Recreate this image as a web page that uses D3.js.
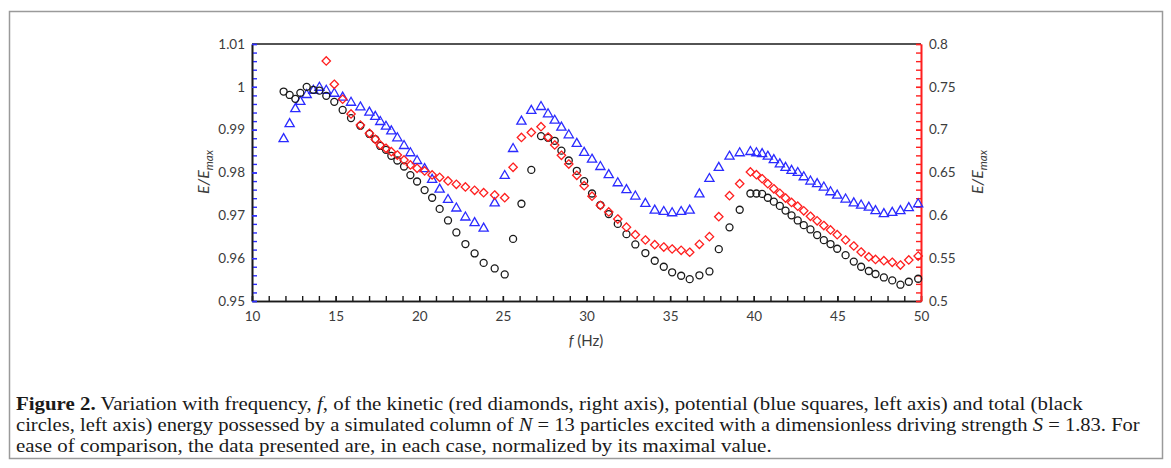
<!DOCTYPE html>
<html><head><meta charset="utf-8">
<script src="https://cdn.jsdelivr.net/npm/d3@7"></script>
<style>body{margin:0;background:#fff;} svg{display:block;} .cap{font-family:"Liberation Serif","Times New Roman",Times,serif;}</style>
</head><body><svg id="c" width="1171" height="468"></svg>
<script>
const freq = [11.89,12.25,12.59,12.89,13.27,13.67,14.03,14.44,14.92,15.42,15.92,16.48,17.02,17.37,17.67,18.01,18.33,18.69,19.09,19.47,19.87,
20.32,20.77,21.22,21.72,22.22,22.76,23.31,23.85,24.51,25.11,25.61,26.11,26.70,27.28,27.70,28.10,28.50,28.94,29.42,29.86,
30.33,30.83,31.33,31.87,32.39,32.92,33.52,34.08,34.62,35.12,35.66,36.17,36.75,37.35,37.91,38.55,39.16,39.80,
40.16,40.50,40.84,41.20,41.56,41.90,42.26,42.63,42.99,43.39,43.79,44.19,44.59,44.99,45.49,45.98,46.42,46.88,47.28,47.78,48.28,48.77,49.27,49.83];

const total = [0.9989,0.9981,0.9972,0.9986,1.0000,0.9993,0.9991,0.9979,0.9965,0.9946,0.9927,0.9909,0.9890,0.9878,0.9862,0.9853,0.9839,0.9828,0.9814,0.9794,0.9779,
0.9759,0.9741,0.9715,0.9688,0.9660,0.9633,0.9611,0.9589,0.9576,0.9562,0.9645,0.9727,0.9806,0.9885,0.9881,0.9874,0.9851,0.9828,0.9804,0.9780,
0.9751,0.9724,0.9703,0.9680,0.9656,0.9632,0.9612,0.9594,0.9580,0.9567,0.9559,0.9551,0.9560,0.9569,0.9621,0.9672,0.9713,0.9751,
0.9751,0.9750,0.9741,0.9732,0.9722,0.9711,0.9700,0.9688,0.9677,0.9667,0.9654,0.9642,0.9633,0.9622,0.9607,0.9592,0.9580,0.9570,0.9563,0.9555,0.9548,0.9538,0.9545,0.9552];

const potential = [0.9880,0.9915,0.9950,0.9967,0.9983,0.9993,1.0000,0.9993,0.9986,0.9977,0.9965,0.9954,0.9942,0.9932,0.9920,0.9909,0.9898,0.9882,0.9864,0.9847,0.9829,
0.9810,0.9785,0.9762,0.9738,0.9718,0.9697,0.9684,0.9671,0.9730,0.9794,0.9857,0.9921,0.9946,0.9955,0.9938,0.9923,0.9907,0.9889,0.9869,0.9848,
0.9832,0.9815,0.9796,0.9777,0.9761,0.9746,0.9729,0.9713,0.9710,0.9707,0.9710,0.9713,0.9751,0.9787,0.9813,0.9839,0.9847,0.9850,
0.9847,0.9845,0.9839,0.9831,0.9821,0.9813,0.9806,0.9801,0.9791,0.9781,0.9775,0.9767,0.9756,0.9748,0.9739,0.9730,0.9725,0.9720,0.9712,0.9705,0.9708,0.9712,0.9719,0.9728];

const kinetic = [null,null,null,null,null,null,null,0.7802,0.7530,0.7355,0.7183,0.7054,0.6958,0.6888,0.6821,0.6783,0.6743,0.6704,0.6646,0.6588,0.6549,
0.6518,0.6471,0.6444,0.6401,0.6362,0.6331,0.6292,0.6264,0.6237,0.6206,0.6561,0.6909,0.6967,0.7035,0.6914,0.6821,0.6701,0.6599,0.6467,0.6346,
0.6223,0.6117,0.6039,0.5957,0.5862,0.5774,0.5712,0.5657,0.5630,0.5607,0.5592,0.5569,0.5662,0.5751,0.5984,0.6229,0.6369,0.6506,
0.6474,0.6427,0.6369,0.6310,0.6257,0.6202,0.6150,0.6107,0.6053,0.5989,0.5936,0.5881,0.5829,0.5774,0.5712,0.5642,0.5572,0.5514,0.5485,0.5470,0.5452,0.5420,0.5479,0.5525];

const xTicks = [10,15,20,25,30,35,40,45,50];
const xMinorTicks = [10,11,12,13,14,15,16,17,18,19,20,21,22,23,24,25,26,27,28,29,30,31,32,33,34,35,36,37,38,39,40,41,42,43,44,45,46,47,48,49,50];
const leftTicks = [0.95,0.96,0.97,0.98,0.99,1,1.01];
const leftTickLabels = ["0.95","0.96","0.97","0.98","0.99","1","1.01"];
const rightTicks = [0.5,0.55,0.6,0.65,0.7,0.75,0.8];
const rightTickLabels = ["0.5","0.55","0.6","0.65","0.7","0.75","0.8"];

const svg = d3.select("#c");
svg.append("rect").attr("x",9.5).attr("y",11.5).attr("width",1153).attr("height",447)
  .attr("fill","#fff").attr("stroke","#9a9a9a").attr("stroke-width",1.5);

const x = d3.scaleLinear().domain([10,50]).range([252,921]);
const yL = d3.scaleLinear().domain([0.95,1.01]).range([301,44]);
const yR = d3.scaleLinear().domain([0.5,0.8]).range([301,44]);

const BLUE = "#2b2bff", RED = "#ff1f1f", BLACK = "#1a1a1a", LBL = "#3c3c3c";
const FONT = "Lato, 'Open Sans', sans-serif";

svg.append("line").attr("x1",x(10)).attr("x2",x(50)).attr("y1",yL(1.01)).attr("y2",yL(1.01))
  .attr("stroke",BLACK).attr("stroke-width",1.6);

function styleAxis(g, lineColor, tickColor){
  g.select(".domain").attr("stroke",lineColor).attr("stroke-width",1.6);
  g.selectAll(".tick line").attr("stroke",tickColor).attr("stroke-width",1.4);
  g.selectAll(".tick text").attr("fill",LBL).attr("font-family",FONT).attr("font-size",13.5);
  g.attr("font-family",null).attr("font-size",null);
}

const minorLeft = d3.range(0,31).map(i => +(0.95 + i*0.002).toFixed(3));
const minorRight = d3.range(0,31).map(i => +(0.5 + i*0.01).toFixed(2));

const gBm = svg.append("g").attr("transform",`translate(0,${yL(0.95)})`)
  .call(d3.axisBottom(x).tickValues(xMinorTicks).tickSize(-5).tickSizeOuter(0).tickFormat(""));
styleAxis(gBm, BLACK, BLACK);
const gB = svg.append("g").attr("transform",`translate(0,${yL(0.95)})`)
  .call(d3.axisBottom(x).tickValues(xTicks).tickSize(-5).tickSizeOuter(0).tickPadding(10).tickFormat(d=>String(d)));
styleAxis(gB, BLACK, BLACK);

const gLm = svg.append("g").attr("transform",`translate(${x(10)},0)`)
  .call(d3.axisLeft(yL).tickValues(minorLeft).tickSize(-5).tickSizeOuter(0).tickFormat(""));
styleAxis(gLm, BLACK, BLUE);
const gL = svg.append("g").attr("transform",`translate(${x(10)},0)`)
  .call(d3.axisLeft(yL).tickValues(leftTicks).tickSize(-5).tickSizeOuter(0).tickPadding(7)
  .tickFormat((d,i)=>leftTickLabels[i]));
styleAxis(gL, BLACK, BLUE);

const gRm = svg.append("g").attr("transform",`translate(${x(50)},0)`)
  .call(d3.axisRight(yR).tickValues(minorRight).tickSize(-5).tickSizeOuter(0).tickFormat(""));
styleAxis(gRm, RED, RED);
const gR = svg.append("g").attr("transform",`translate(${x(50)},0)`)
  .call(d3.axisRight(yR).tickValues(rightTicks).tickSize(-5).tickSizeOuter(0).tickPadding(8)
  .tickFormat((d,i)=>rightTickLabels[i]));
styleAxis(gR, RED, RED);

function yTitle(cx){
  const t = svg.append("text").attr("transform",`translate(${cx},172) rotate(-90)`)
    .attr("text-anchor","middle").attr("font-family",FONT).attr("font-size",16)
    .attr("font-style","italic").attr("fill",LBL);
  t.append("tspan").text("E/E");
  t.append("tspan").attr("font-size",11.5).attr("dy",3.5).text("max");
}
yTitle(209);
yTitle(983);

const xt = svg.append("text").attr("x",586).attr("y",346).attr("text-anchor","middle")
  .attr("font-family",FONT).attr("font-size",15).attr("fill",LBL);
xt.append("tspan").attr("font-style","italic").text("f");
xt.append("tspan").text(" (Hz)");

const pts = freq.map((f,i)=>({f, t:total[i], p:potential[i], k:kinetic[i]}));
const tri = "M0,-4.6L4.6,3.4L-4.6,3.4Z";
const dia = "M0,-4.2L4.2,0L0,4.2L-4.2,0Z";

svg.append("g").selectAll("path").data(pts).join("path")
  .attr("d",tri).attr("transform",d=>`translate(${x(d.f)},${yL(d.p)})`)
  .attr("fill","none").attr("stroke",BLUE).attr("stroke-width",1.3);

svg.append("g").selectAll("circle").data(pts).join("circle")
  .attr("cx",d=>x(d.f)).attr("cy",d=>yL(d.t)).attr("r",3.5)
  .attr("fill","none").attr("stroke",BLACK).attr("stroke-width",1.3);

svg.append("g").selectAll("path").data(pts.filter(d=>d.k!==null)).join("path")
  .attr("d",dia).attr("transform",d=>`translate(${x(d.f)},${yR(d.k)})`)
  .attr("fill","none").attr("stroke",RED).attr("stroke-width",1.3);

const capLines = [
  [{t:"Figure 2.",b:true},{t:" Variation with frequency, "},{t:"f",i:true},{t:", of the kinetic (red diamonds, right axis), potential (blue squares, left axis) and total (black"}],
  [{t:"circles, left axis) energy possessed by a simulated column of "},{t:"N",i:true},{t:" = 13 particles excited with a dimensionless driving strength "},{t:"S",i:true},{t:" = 1.83. For"}],
  [{t:"ease of comparison, the data presented are, in each case, normalized by its maximal value."}]
];
const capWidths = [1067, 1125, 756];
const capBase = [410, 431, 452];
capLines.forEach((line,li)=>{
  const t = svg.append("text").attr("class","cap").attr("font-size",18.5).attr("fill","#1a1a1a");
  line.forEach(s=>{
    const sp = t.append("tspan").text(s.t);
    if(s.b) sp.attr("font-weight","bold");
    if(s.i) sp.attr("font-style","italic");
  });
  const w = t.node().getComputedTextLength();
  t.attr("transform",`translate(16,${capBase[li]}) scale(${capWidths[li]/w},1)`);
});
</script></body></html>
